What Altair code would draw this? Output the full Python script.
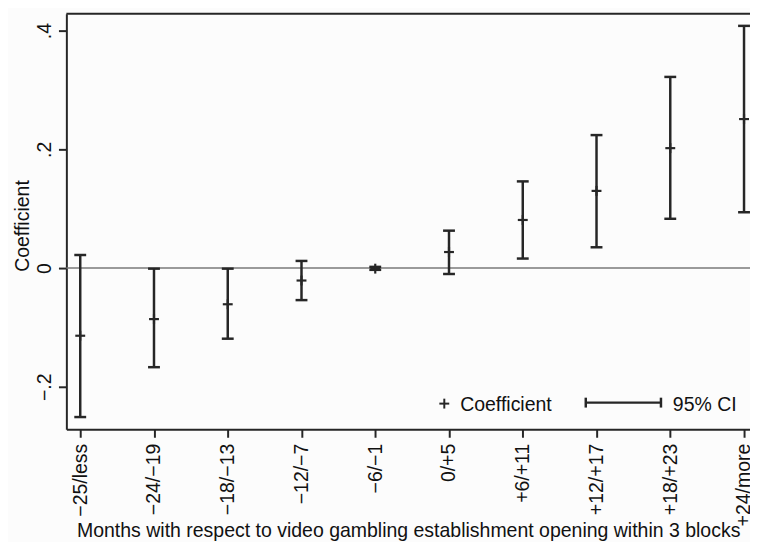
import altair as alt
import pandas as pd

categories = ["−25/less", "−24/−19", "−18/−13", "−12/−7", "−6/−1",
              "0/+5", "+6/+11", "+12/+17", "+18/+23", "+24/more"]
coef = [-0.114, -0.086, -0.061, -0.021, -0.001, 0.027, 0.081, 0.130, 0.202, 0.251]
ci_low = [-0.251, -0.167, -0.119, -0.054, -0.003, -0.010, 0.016, 0.035, 0.083, 0.094]
ci_high = [0.022, -0.001, -0.001, 0.012, 0.002, 0.063, 0.146, 0.224, 0.322, 0.408]
y_ticks = [-0.2, 0.0, 0.2, 0.4]
y_tick_labels = ["−.2", "0", ".2", ".4"]
legend_labels = ["Coefficient", "95% CI"]
x_title = "Months with respect to video gambling establishment opening within 3 blocks"
y_title = "Coefficient"

df = pd.DataFrame({"i": list(range(len(categories))), "cat": categories,
                   "coef": coef, "lo": ci_low, "hi": ci_high})
one = pd.DataFrame({"k": [0]})

FONT = "Liberation Sans"
FS = 19.7
INK = "#262626"
W, H = 691, 420

x_expr = "[" + ",".join("'%s'" % c for c in categories) + "][round(datum.value)]"
y_expr = "[" + ",".join("'%s'" % c for c in y_tick_labels) + "][round((datum.value + 0.2) / 0.2)]"

xs = alt.Scale(domain=[-0.188, 9.081], nice=False, zero=False)
ys = alt.Scale(domain=[-0.2717, 0.4283], nice=False, zero=False)

X = alt.X("i:Q", scale=xs, axis=alt.Axis(
    values=list(range(len(categories))), labelExpr=x_expr, labelAngle=-90,
    labelAlign="right", labelBaseline="middle", labelPadding=6,
    labelFont=FONT, labelFontSize=FS, labelColor="#111", labelFlush=False,
    labelOverlap=False, labelBound=False,
    tickSize=8, tickWidth=2, tickColor=INK, domainColor=INK, domainWidth=2,
    grid=False, title=x_title, titleFont=FONT, titleFontSize=FS,
    titleFontWeight="normal", titleColor="#111", titleY=108,
    titleBaseline="alphabetic"))
Y = alt.Y("lo:Q", scale=ys, axis=alt.Axis(
    values=y_ticks, labelExpr=y_expr, labelAngle=-90, labelAlign="center",
    labelBaseline="alphabetic", labelPadding=8, labelFont=FONT,
    labelFontSize=FS, labelColor="#111", labelFlush=False, labelOverlap=False,
    tickSize=8, tickWidth=2, tickColor=INK, domainColor=INK, domainWidth=2,
    grid=False, title=y_title, titleFont=FONT, titleFontSize=FS,
    titleFontWeight="normal", titleColor="#111", titleAngle=-90,
    titleX=-38, titleY=214, titleAlign="center", titleBaseline="alphabetic"))

base = alt.Chart(df)

zero = alt.Chart(one).mark_rule(color="#7a7a7a", strokeWidth=1.6).encode(y=alt.datum(0, scale=ys))
top = alt.Chart(one).mark_rule(color=INK, strokeWidth=2).encode(
    x=alt.value(0), x2=alt.value(W + 10), y=alt.value(0))

bars = base.mark_rule(color=INK, strokeWidth=2.5).encode(x=X, y=Y, y2="hi:Q")
cap_lo = base.mark_rule(color=INK, strokeWidth=2.5, xOffset=-6, x2Offset=6).encode(
    x="i:Q", x2="i:Q", y="lo:Q")
cap_hi = base.mark_rule(color=INK, strokeWidth=2.5, xOffset=-6, x2Offset=6).encode(
    x="i:Q", x2="i:Q", y="hi:Q")
plus_h = base.mark_rule(color=INK, strokeWidth=2.2, xOffset=-5, x2Offset=5).encode(
    x="i:Q", x2="i:Q", y="coef:Q")
plus_v = base.mark_rule(color=INK, strokeWidth=2.2, yOffset=-5, y2Offset=5).encode(
    x="i:Q", y="coef:Q", y2="coef:Q")

# legend
lg_ph = alt.Chart(one).mark_rule(color=INK, strokeWidth=2).encode(
    x=alt.value(377), x2=alt.value(387), y=alt.value(394))
lg_pv = alt.Chart(one).mark_rule(color=INK, strokeWidth=2).encode(
    x=alt.value(382), y=alt.value(389), y2=alt.value(399))
lg_t1 = alt.Chart(one).mark_text(align="left", baseline="alphabetic", font=FONT,
                                 fontSize=FS, color="#111").encode(
    x=alt.value(398), y=alt.value(401), text=alt.value(legend_labels[0]))
lg_ci = alt.Chart(one).mark_rule(color=INK, strokeWidth=2.5).encode(
    x=alt.value(525), x2=alt.value(601), y=alt.value(393))
lg_c1 = alt.Chart(one).mark_rule(color=INK, strokeWidth=2.5).encode(
    x=alt.value(525), y=alt.value(388), y2=alt.value(398))
lg_c2 = alt.Chart(one).mark_rule(color=INK, strokeWidth=2.5).encode(
    x=alt.value(601), y=alt.value(388), y2=alt.value(398))
lg_t2 = alt.Chart(one).mark_text(align="left", baseline="alphabetic", font=FONT,
                                 fontSize=FS, color="#111").encode(
    x=alt.value(613), y=alt.value(401), text=alt.value(legend_labels[1]))

chart = alt.layer(zero, bars, cap_lo, cap_hi, plus_h, plus_v, top,
                  lg_ph, lg_pv, lg_t1, lg_ci, lg_c1, lg_c2, lg_t2).properties(
    width=W, height=H,
    autosize=alt.AutoSizeParams(type="none"),
    padding={"left": 59, "top": 3, "right": 0, "bottom": 111},
    background="#fcfcfc",
).configure_view(stroke=None)

chart.save("out.html", embed_options={"renderer": "svg", "actions": False})
